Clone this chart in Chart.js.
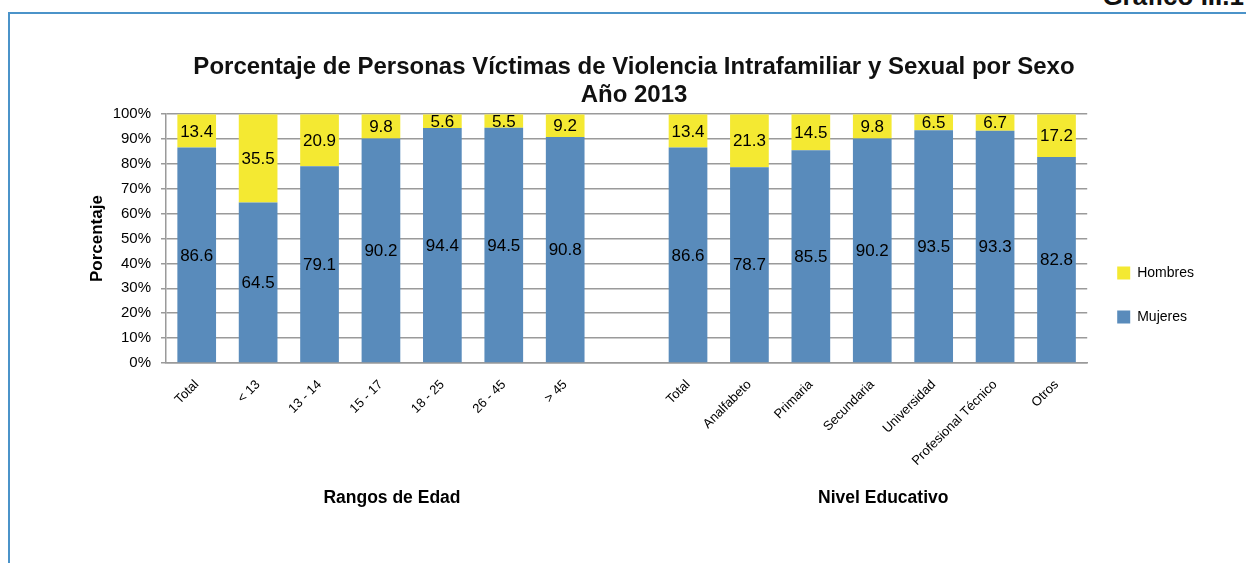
<!DOCTYPE html>
<html lang="es">
<head>
<meta charset="utf-8">
<title>Porcentaje de Personas Víctimas de Violencia Intrafamiliar y Sexual por Sexo</title>
<script src="https://cdn.jsdelivr.net/npm/chart.js@4.4.1/dist/chart.umd.min.js"></script>
<style>
    html, body { margin: 0; padding: 0; background: #fff; overflow: hidden; }
    body { width: 1246px; height: 563px; position: relative; }
    .frame {
        position: absolute; left: 8px; top: 12px; width: 1300px; height: 600px;
        border-left: 2px solid #4b93c9; border-top: 2px solid #4b93c9;
    }
    .grafico {
        position: absolute; right: 2px; top: -19px;
        font: bold 26px "Liberation Sans", Arial, sans-serif; color: #111;
    }
    .chart-box { position: absolute; left: 22px; top: 20px; width: 1224px; height: 550px; }
</style>
</head>
<body>
<div class="frame"></div>
<div class="grafico">Gráfico III.1</div>
<div class="chart-box"><canvas id="victimasChart"></canvas></div>

<script>
// --- DATA ---
const ageLabels = ['Total', '< 13', '13 - 14', '15 - 17', '18 - 25', '26 - 45', '> 45'];
const eduLabels = ['Total', 'Analfabeto', 'Primaria', 'Secundaria', 'Universidad', 'Profesional Técnico', 'Otros'];

const mujeresEdad = [86.6, 64.5, 79.1, 90.2, 94.4, 94.5, 90.8];
const hombresEdad = [13.4, 35.5, 20.9, 9.8, 5.6, 5.5, 9.2];
const mujeresEdu = [86.6, 78.7, 85.5, 90.2, 93.5, 93.3, 82.8];
const hombresEdu = [13.4, 21.3, 14.5, 9.8, 6.5, 6.7, 17.2];

const groupTitles = ['Rangos de Edad', 'Nivel Educativo'];
const yMin = 0, yMax = 100, yStep = 10;

// empty slot between the two groups
const categories = [...ageLabels, '', ...eduLabels];
const mujeres = [...mujeresEdad, null, ...mujeresEdu];
const hombres = [...hombresEdad, null, ...hombresEdu];

const blue = '#598bbb';
const yellow = '#f4e932';
const gridGray = '#9a9a9a';

Chart.defaults.font.family = '"Liberation Sans", Arial, sans-serif';
Chart.defaults.color = '#000';

// value labels in the middle of each segment
const segmentLabels = {
    id: 'segmentLabels',
    afterDatasetsDraw(chart) {
        const ctx = chart.ctx;
        ctx.save();
        ctx.font = '17px "Liberation Sans", Arial, sans-serif';
        ctx.fillStyle = '#000';
        ctx.textAlign = 'center';
        ctx.textBaseline = 'middle';
        chart.data.datasets.forEach((ds, i) => {
            const meta = chart.getDatasetMeta(i);
            meta.data.forEach((bar, j) => {
                const v = ds.data[j];
                if (v === null || v === undefined) return;
                ctx.fillText(v.toFixed(1), bar.x, (bar.y + bar.base) / 2 + 1);
            });
        });
        ctx.restore();
    }
};

// group titles under the rotated category labels
const groupTitlePlugin = {
    id: 'groupTitles',
    afterDraw(chart) {
        const x = chart.scales.x;
        const ctx = chart.ctx;
        const first = (x.getPixelForValue(0) + x.getPixelForValue(ageLabels.length - 1)) / 2;
        const s = ageLabels.length + 1;
        const second = (x.getPixelForValue(s) + x.getPixelForValue(s + eduLabels.length - 1)) / 2;
        ctx.save();
        ctx.font = 'bold 17.5px "Liberation Sans", Arial, sans-serif';
        ctx.fillStyle = '#000';
        ctx.textAlign = 'center';
        ctx.textBaseline = 'middle';
        ctx.fillText(groupTitles[0], first + 11, 478);
        ctx.fillText(groupTitles[1], second + 11, 478);
        ctx.restore();
    }
};

new Chart(document.getElementById('victimasChart'), {
    type: 'bar',
    data: {
        labels: categories,
        datasets: [
            { label: 'Mujeres', data: mujeres, backgroundColor: blue, barPercentage: 0.63, categoryPercentage: 1 },
            { label: 'Hombres', data: hombres, backgroundColor: yellow, barPercentage: 0.63, categoryPercentage: 1 }
        ]
    },
    options: {
        responsive: true,
        maintainAspectRatio: false,
        animation: false,
        layout: { padding: { left: 42, right: 42, top: 0, bottom: 0 } },
        scales: {
            x: {
                stacked: true,
                grid: { display: false },
                border: { display: true, color: gridGray, width: 1.5 },
                ticks: {
                    autoSkip: false,
                    maxRotation: 45,
                    minRotation: 45,
                    padding: 6,
                    font: { size: 13 },
                    color: '#000'
                },
                afterFit: (scale) => { scale.height = 207; }
            },
            y: {
                stacked: true,
                min: yMin,
                max: yMax,
                grid: { color: gridGray, lineWidth: 1.5, tickLength: 5 },
                border: { display: true, color: gridGray, width: 1.5 },
                ticks: {
                    stepSize: yStep,
                    padding: 10,
                    font: { size: 15 },
                    color: '#000',
                    callback: (v) => v + '%'
                },
                title: {
                    display: true,
                    text: 'Porcentaje',
                    font: { size: 17, weight: 'bold' },
                    color: '#000',
                    padding: { top: 23, bottom: 0 }
                },
                afterFit: (scale) => { scale.width = 102; }
            }
        },
        plugins: {
            title: {
                display: true,
                text: ['Porcentaje de Personas Víctimas de Violencia Intrafamiliar y Sexual por Sexo', 'Año 2013'],
                font: { size: 24, weight: 'bold', lineHeight: 1.17 },
                color: '#111',
                padding: { top: 33, bottom: 5 }
            },
            legend: {
                position: 'right',
                reverse: true,
                labels: {
                    boxWidth: 13,
                    boxHeight: 13,
                    padding: 30,
                    font: { size: 14 },
                    color: '#000'
                }
            },
            tooltip: { enabled: false }
        }
    },
    plugins: [segmentLabels, groupTitlePlugin]
});
</script>
</body>
</html>
